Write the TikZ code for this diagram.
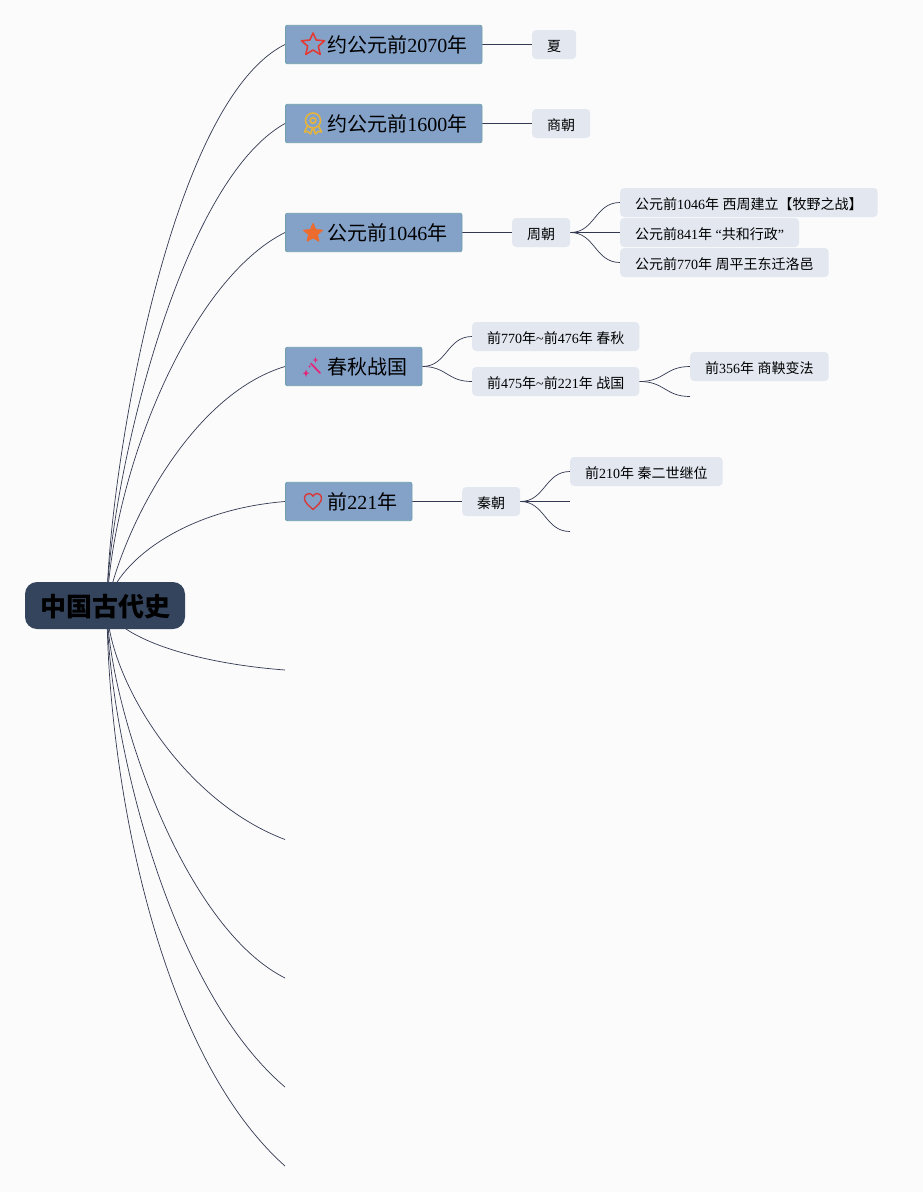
\documentclass[tikz,border=0pt]{standalone}
\usepackage{fontspec}
\setmainfont{Liberation Serif}
\newfontfamily\cjk{Noto Sans CJK SC}
\usetikzlibrary{backgrounds,shapes.geometric}
\newcommand{\cj}[1]{{\cjk #1}}
\definecolor{pagebg}{HTML}{FBFBFC}
\definecolor{topicfill}{HTML}{84A1C8}
\definecolor{topicline}{HTML}{6FA0AC}
\definecolor{subfill}{HTML}{E2E7F0}
\definecolor{rootfill}{HTML}{34445D}
\definecolor{linkcol}{HTML}{333950}
\definecolor{icred}{HTML}{E23B35}
\definecolor{icgold}{HTML}{E4B43C}
\definecolor{icorange}{HTML}{EC6C30}
\definecolor{icpink}{HTML}{E22878}
\definecolor{icheart}{HTML}{D63A3A}
\tikzset{
 rootbox/.style={fill=rootfill,rounded corners=12pt,minimum width=160pt,minimum height=47pt,inner sep=0pt,text height=24pt,text depth=2pt,text=black,font=\fontsize{26}{30}\selectfont\cjk\bfseries},
 topicbox/.style={anchor=west,fill=topicfill,draw=topicline,line width=0.8pt,rounded corners=2pt,inner xsep=14.6pt,inner ysep=0pt,minimum height=38.4pt,text height=20pt,text depth=4pt,text=black,font=\fontsize{20}{24}\selectfont},
 subbox/.style={anchor=west,fill=subfill,rounded corners=4pt,inner xsep=15pt,inner ysep=0pt,minimum height=29pt,text height=16.5pt,text depth=2pt,text=black,font=\fontsize{14}{17}\selectfont},
 link/.style={draw=linkcol,line width=0.7pt},
}
\newcommand{\icongap}{\hspace*{27.4pt}}
\begin{document}
\begin{tikzpicture}[x=1pt,y=-1pt]
\useasboundingbox (0,0) rectangle (923,1192);
% nodes
\node[rootbox] (root) at (105,605.5) {中国古代史};
\node[topicbox] (t1) at (285,44.5) {\icongap\cj{约公元前}2070\cj{年}};
\node[topicbox] (t2) at (285,123.5) {\icongap\cj{约公元前}1600\cj{年}};
\node[topicbox] (t3) at (285,232.5) {\icongap\cj{公元前}1046\cj{年}};
\node[topicbox] (t4) at (285,366.5) {\icongap\cj{春秋战国}};
\node[topicbox] (t5) at (285,501.5) {\icongap\cj{前}221\cj{年}};
\coordinate (e6) at (285,670);
\coordinate (e7) at (285,839.5);
\coordinate (e8) at (285,978);
\coordinate (e9) at (285,1087);
\coordinate (e10) at (285,1166);
\node[subbox] (xia) at (532,44.5) {\cj{夏}};
\node[subbox] (shang) at (532,123.5) {\cj{商朝}};
\node[subbox] (zhou) at (512,232.5) {\cj{周朝}};
\node[subbox] (z1) at (620,202.5) {\cj{公元前}1046\cj{年} \cj{西周建立【牧野之战】}};
\node[subbox] (z2) at (620,232.5) {\cj{公元前}841\cj{年} “\cj{共和行政}”};
\node[subbox] (z3) at (620,262.5) {\cj{公元前}770\cj{年} \cj{周平王东迁洛邑}};
\node[subbox] (cq) at (472,336.5) {\cj{前}770\cj{年}\textasciitilde\cj{前}476\cj{年} \cj{春秋}};
\node[subbox] (zg) at (472,381.5) {\cj{前}475\cj{年}\textasciitilde\cj{前}221\cj{年} \cj{战国}};
\node[subbox] (sy) at (690,366.5) {\cj{前}356\cj{年} \cj{商鞅变法}};
\coordinate (zge) at (690,396.5);
\node[subbox] (qin) at (462,501.5) {\cj{秦朝}};
\node[subbox] (q1) at (570,471.5) {\cj{前}210\cj{年} \cj{秦二世继位}};
\coordinate (q2) at (570,501.5);
\coordinate (q3) at (570,531.5);
% icons
\draw[draw=icred,line width=1.6pt,line join=round,fill=none]
  (313,33)--(316.2,40)--(324.5,40.8)--(318.3,46.2)--(320.2,54.4)--(313,50)--(305.8,54.4)--(307.7,46.2)--(301.5,40.8)--(309.8,40)--cycle;
\begin{scope}[draw=icgold,line width=1.6pt]
\draw (313,120.5) circle (7.5pt);
\draw (313,120.5) circle (2.8pt);
\draw[line join=round] (307.5,126)--(304.5,132)--(308,131.5)--(310.5,134)--(312.5,128.5);
\draw[line join=round] (318.5,126)--(321.5,132)--(318,131.5)--(315.5,134)--(313.5,128.5);
\end{scope}
\filldraw[fill=icorange,draw=icorange,line join=round,line width=1pt]
  (313,223.5)--(315.6,229.6)--(322.5,230.2)--(317.3,234.6)--(318.9,241.2)--(313,237.8)--(307.1,241.2)--(308.7,234.6)--(303.5,230.2)--(310.4,229.6)--cycle;
\begin{scope}[draw=icpink,fill=icpink]
\draw[line width=1.8pt,line cap=round] (311,363.5)--(320,373);
\fill (306,369.5)--(307,372.3)--(309.5,373.2)--(307,374.1)--(306,377)--(305,374.1)--(302.5,373.2)--(305,372.3)--cycle;
\fill (315.5,357)--(316.2,359.3)--(318.5,360)--(316.2,360.7)--(315.5,363)--(314.8,360.7)--(312.5,360)--(314.8,359.3)--cycle;
\fill (309.5,366.5) circle (1.1pt);
\end{scope}
\draw[draw=icheart,line width=1.4pt,line join=round]
  (313,509.5) .. controls (308,505) and (304.5,502) .. (304.5,498.5) .. controls (304.5,495) and (307,493.5) .. (309,493.5) .. controls (311,493.5) and (312.3,495) .. (313,496.3) .. controls (313.7,495) and (315,493.5) .. (317,493.5) .. controls (319,493.5) and (321.5,495) .. (321.5,498.5) .. controls (321.5,502) and (318,505) .. (313,509.5) -- cycle;
% connectors
\begin{scope}[on background layer]
\fill[pagebg] (0,0) rectangle (923,1192);
\coordinate (o) at ([xshift=2pt]root.center);
\draw[link] (o) .. controls (107,489) and (166,104) .. (t1.west);
\draw[link] (o) .. controls (107,500) and (175,185) .. (t2.west);
\draw[link] (o) .. controls (113,470) and (190,280) .. (t3.west);
\draw[link] (o) .. controls (122,530) and (190,395) .. (t4.west);
\draw[link] (o) .. controls (115,565) and (180,510) .. (t5.west);
\draw[link] (o) .. controls (110,632) and (180,662) .. (e6);
\draw[link] (o) .. controls (107,675) and (180,800) .. (e7);
\draw[link] (o) .. controls (107,700) and (180,925) .. (e8);
\draw[link] (o) .. controls (107,725) and (165,985) .. (e9);
\draw[link] (o) .. controls (107,770) and (155,1050) .. (e10);
\draw[link] (t1.east) -- (xia.west);
\draw[link] (t2.east) -- (shang.west);
\draw[link] (t3.east) -- (zhou.west);
\draw[link] (zhou.east) .. controls (595,232.5) and (595,202.5) .. (z1.west);
\draw[link] (zhou.east) -- (z2.west);
\draw[link] (zhou.east) .. controls (595,232.5) and (595,262.5) .. (z3.west);
\draw[link] (t4.east) .. controls (447,366.5) and (447,336.5) .. (cq.west);
\draw[link] (t4.east) .. controls (447,366.5) and (447,381.5) .. (zg.west);
\draw[link] (zg.east) .. controls (665,381.5) and (665,366.5) .. (sy.west);
\draw[link] (zg.east) .. controls (665,381.5) and (665,396.5) .. (zge);
\draw[link] (t5.east) -- (qin.west);
\draw[link] (qin.east) .. controls (545,501.5) and (545,471.5) .. (q1.west);
\draw[link] (qin.east) -- (q2);
\draw[link] (qin.east) .. controls (545,501.5) and (545,531.5) .. (q3);
\end{scope}
\end{tikzpicture}
\end{document}
